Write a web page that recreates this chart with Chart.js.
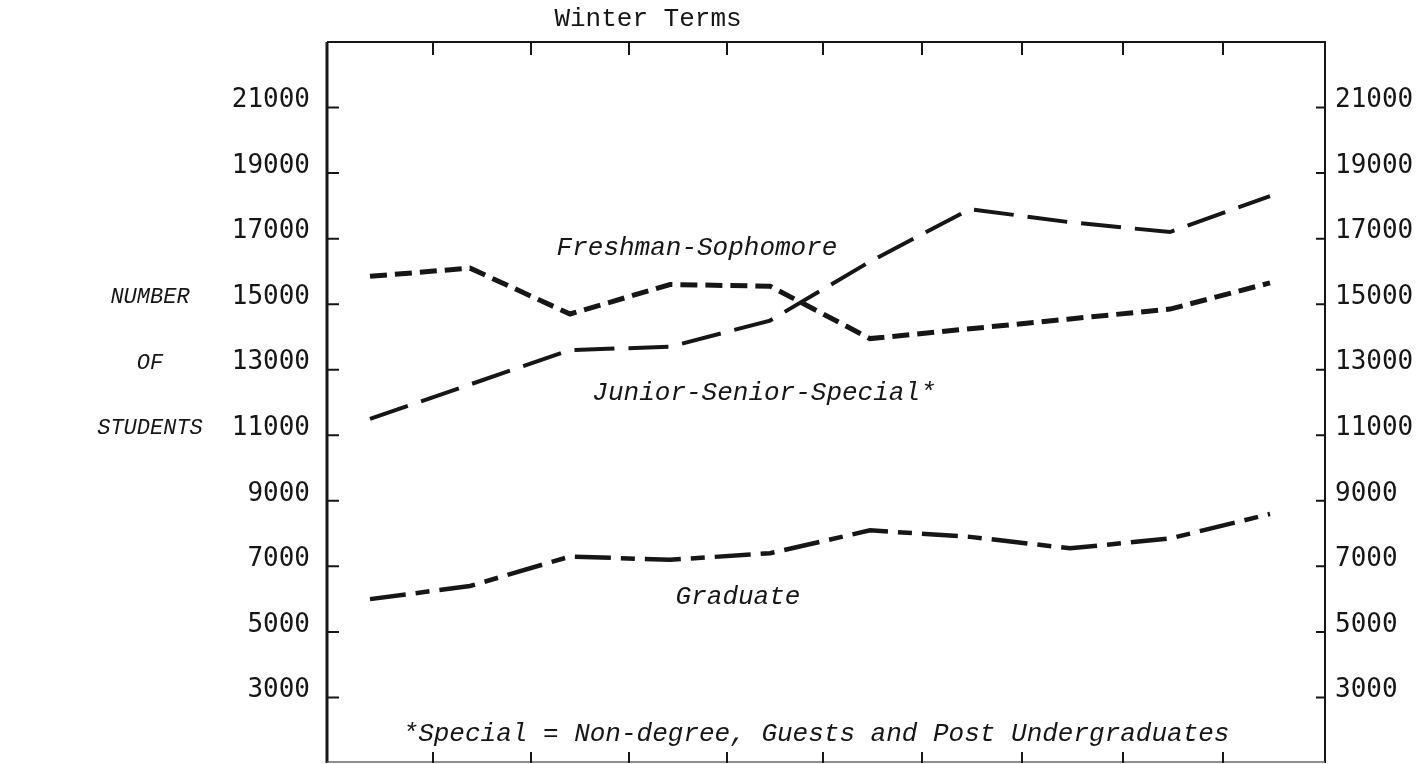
<!DOCTYPE html>
<html>
<head>
<meta charset="utf-8">
<script src="https://cdn.jsdelivr.net/npm/chart.js@4.4.1/dist/chart.umd.min.js"></script>
<style>
  html, body { margin: 0; padding: 0; background: #fff; }
</style>
</head>
<body>
<canvas id="enrollChart" width="1426" height="764"></canvas>
<script>
// winter terms (unlabelled on the original)
const termSlots = [0, 1, 2, 3, 4, 5, 6, 7, 8, 9];
const freshSoph = [15850, 16100, 14700, 15600, 15550, 13950, 14250, 14550, 14850, 15650];
const juniorSenior = [11500, 12550, 13600, 13700, 14500, 16300, 17900, 17500, 17200, 18300];
const graduate = [6000, 6400, 7300, 7200, 7400, 8100, 7900, 7550, 7850, 8600];

const countTicks = [3000, 5000, 7000, 9000, 11000, 13000, 15000, 17000, 19000, 21000];
const termTicks = [0.63, 1.61, 2.59, 3.57, 4.53, 5.52, 6.52, 7.53, 8.53];

const ink = '#161616';
const typeFont = "'Liberation Mono', 'DejaVu Sans Mono', monospace";
const numFont = "'DejaVu Sans Mono', monospace";

const seriesNotes = [
  { text: 'Freshman-Sophomore', at: [3.27, 16700] },
  { text: 'Junior-Senior-Special*', at: [3.94, 12300] },
  { text: 'Graduate', at: [3.68, 6050] },
  { text: '*Special = Non-degree, Guests and Post Undergraduates', at: [4.46, 1870] }
];

function toPoints(values) {
  return values.map((v, i) => ({ x: termSlots[i], y: v }));
}

// box round the plot, with the short inward tick marks of the original
const frame = {
  id: 'frame',
  afterDatasetsDraw(chart) {
    const { ctx, chartArea: a, scales } = chart;
    ctx.save();
    ctx.strokeStyle = ink;
    ctx.lineCap = 'butt';

    ctx.lineWidth = 3;
    ctx.beginPath();
    ctx.moveTo(a.left, a.top);
    ctx.lineTo(a.left, a.bottom);
    ctx.stroke();

    ctx.lineWidth = 2;
    ctx.beginPath();
    ctx.moveTo(a.left, a.top);
    ctx.lineTo(a.right, a.top);
    ctx.lineTo(a.right, a.bottom);
    ctx.stroke();

    ctx.strokeStyle = '#6a6a6a';
    ctx.lineWidth = 1.5;
    ctx.beginPath();
    ctx.moveTo(a.left, a.bottom - 1);
    ctx.lineTo(a.right, a.bottom - 1);
    ctx.stroke();

    ctx.strokeStyle = ink;
    ctx.lineWidth = 2;
    termTicks.forEach(t => {
      const x = scales.x.getPixelForValue(t);
      ctx.beginPath();
      ctx.moveTo(x, a.top);
      ctx.lineTo(x, a.top + 13);
      ctx.moveTo(x, a.bottom);
      ctx.lineTo(x, a.bottom - 11);
      ctx.stroke();
    });
    countTicks.forEach(v => {
      const y = scales.y.getPixelForValue(v);
      ctx.beginPath();
      ctx.moveTo(a.left, y);
      ctx.lineTo(a.left + 12, y);
      ctx.moveTo(a.right, y);
      ctx.lineTo(a.right - 9, y);
      ctx.stroke();
    });
    ctx.restore();
  },
  afterDraw(chart) {
    const { ctx, scales } = chart;
    ctx.save();
    ctx.fillStyle = ink;
    ctx.textAlign = 'center';
    ctx.textBaseline = 'middle';

    ctx.font = '26px ' + typeFont;
    ctx.fillText('Winter Terms', 648, 19);

    ctx.font = 'italic 26px ' + typeFont;
    seriesNotes.forEach(n => {
      ctx.fillText(n.text, scales.x.getPixelForValue(n.at[0]), scales.y.getPixelForValue(n.at[1]));
    });

    ctx.font = 'italic 22px ' + typeFont;
    ctx.fillText('NUMBER', 150, scales.y.getPixelForValue(15000) - 7);
    ctx.fillText('OF', 150, scales.y.getPixelForValue(13000) - 7);
    ctx.fillText('STUDENTS', 150, scales.y.getPixelForValue(11000) - 7);
    ctx.restore();
  }
};

const countAxis = (side, width, pad) => ({
  position: side,
  min: 1000,
  max: 23000,
  afterBuildTicks: s => { s.ticks = countTicks.map(v => ({ value: v })); },
  afterFit: s => {
    s.width = width;
    s.paddingTop = 0;
    s.paddingBottom = 0;
  },
  grid: { display: false },
  border: { display: false },
  ticks: {
    padding: pad,
    labelOffset: -7,
    color: ink,
    font: { family: numFont, size: 26 },
    callback: v => String(v)
  }
});

new Chart(document.getElementById('enrollChart'), {
  type: 'line',
  data: {
    datasets: [
      {
        label: 'Freshman-Sophomore',
        data: toPoints(freshSoph),
        borderColor: ink,
        borderWidth: 5,
        borderDash: [17, 8],
        pointRadius: 0,
        tension: 0,
        fill: false
      },
      {
        label: 'Junior-Senior-Special*',
        data: toPoints(juniorSenior),
        borderColor: ink,
        borderWidth: 4,
        borderDash: [40, 14],
        pointRadius: 0,
        tension: 0,
        fill: false
      },
      {
        label: 'Graduate',
        data: toPoints(graduate),
        borderColor: ink,
        borderWidth: 4.5,
        borderDash: [36, 10, 14, 10],
        pointRadius: 0,
        tension: 0,
        fill: false
      }
    ]
  },
  options: {
    responsive: false,
    animation: false,
    layout: { padding: { top: 42, bottom: 1, left: 0, right: 0 } },
    plugins: {
      legend: { display: false },
      tooltip: { enabled: false }
    },
    scales: {
      x: { type: 'linear', display: false, min: -0.43, max: 9.55 },
      y: countAxis('left', 327, 9),
      y2: countAxis('right', 101, 2)
    }
  },
  plugins: [frame]
});
</script>
</body>
</html>
